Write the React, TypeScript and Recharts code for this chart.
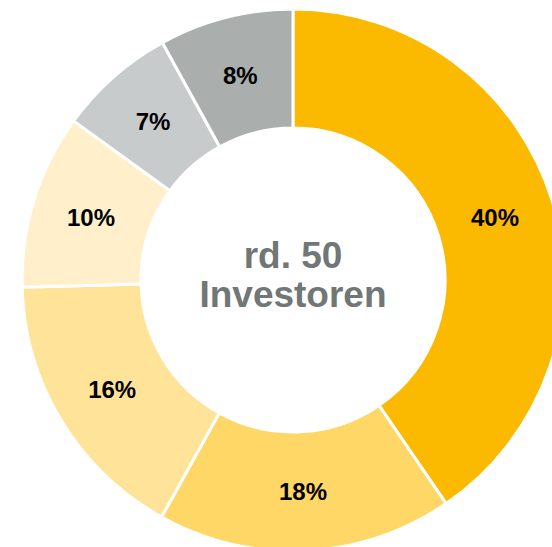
import { PieChart, Pie, Cell, Label } from 'recharts'

// Investor-Verteilung, im Uhrzeigersinn ab 12 Uhr
// Anteile aus den Segmentwinkeln abgelesen, Beschriftung wie im Original
const segments = ['A', 'B', 'C', 'D', 'E', 'F']
const shares = [40.4, 17.6, 16.5, 10.4, 7.0, 8.0]
const shareLabels = ['40%', '18%', '16%', '10%', '7%', '8%']
const colors = ['#FBBA00', '#FFD766', '#FFE398', '#FFF0CB', '#C8CBCB', '#AAAFAE']
const centerLines = ['rd. 50', 'Investoren']

const data = segments.map((name, i) => ({ name, value: shares[i], label: shareLabels[i] }))

const RADIAN = Math.PI / 180

function SliceLabel(props: any) {
  const { cx, cy, midAngle, innerRadius, outerRadius, index } = props
  const r = (innerRadius + outerRadius) / 2
  const x = cx + r * Math.cos(-midAngle * RADIAN)
  const y = cy + r * Math.sin(-midAngle * RADIAN)
  return (
    <text
      x={x}
      y={y}
      textAnchor="middle"
      dominantBaseline="central"
      fill="#000"
      fontSize={24}
      fontWeight="bold"
      fontFamily="'Liberation Sans', Arial, sans-serif"
    >
      {shareLabels[index]}
    </text>
  )
}

function CenterText(props: any) {
  const vb = props.viewBox || {}
  const cx = vb.cx ?? 293
  const cy = vb.cy ?? 280
  return (
    <text
      textAnchor="middle"
      fill="#717676"
      fontSize={37}
      fontWeight="bold"
      fontFamily="'Liberation Sans', Arial, sans-serif"
    >
      <tspan x={cx} y={cy - 12}>{centerLines[0]}</tspan>
      <tspan x={cx} y={cy + 27}>{centerLines[1]}</tspan>
    </text>
  )
}

export default function App() {
  return (
    <div style={{ width: 552, height: 547, overflow: 'hidden' }}>
      <style>{'body{margin:0}'}</style>
      <PieChart width={552} height={547} margin={{ top: 0, right: 0, bottom: 0, left: 0 }}>
        <Pie
          data={data}
          dataKey="value"
          nameKey="name"
          cx={293}
          cy={280}
          innerRadius={152}
          outerRadius={271}
          startAngle={90}
          endAngle={-270}
          stroke="#ffffff"
          strokeWidth={3}
          label={SliceLabel}
          labelLine={false}
          isAnimationActive={false}
        >
          {data.map((d, i) => (
            <Cell key={d.name} fill={colors[i]} />
          ))}
          <Label position="center" content={CenterText} />
        </Pie>
      </PieChart>
    </div>
  )
}
